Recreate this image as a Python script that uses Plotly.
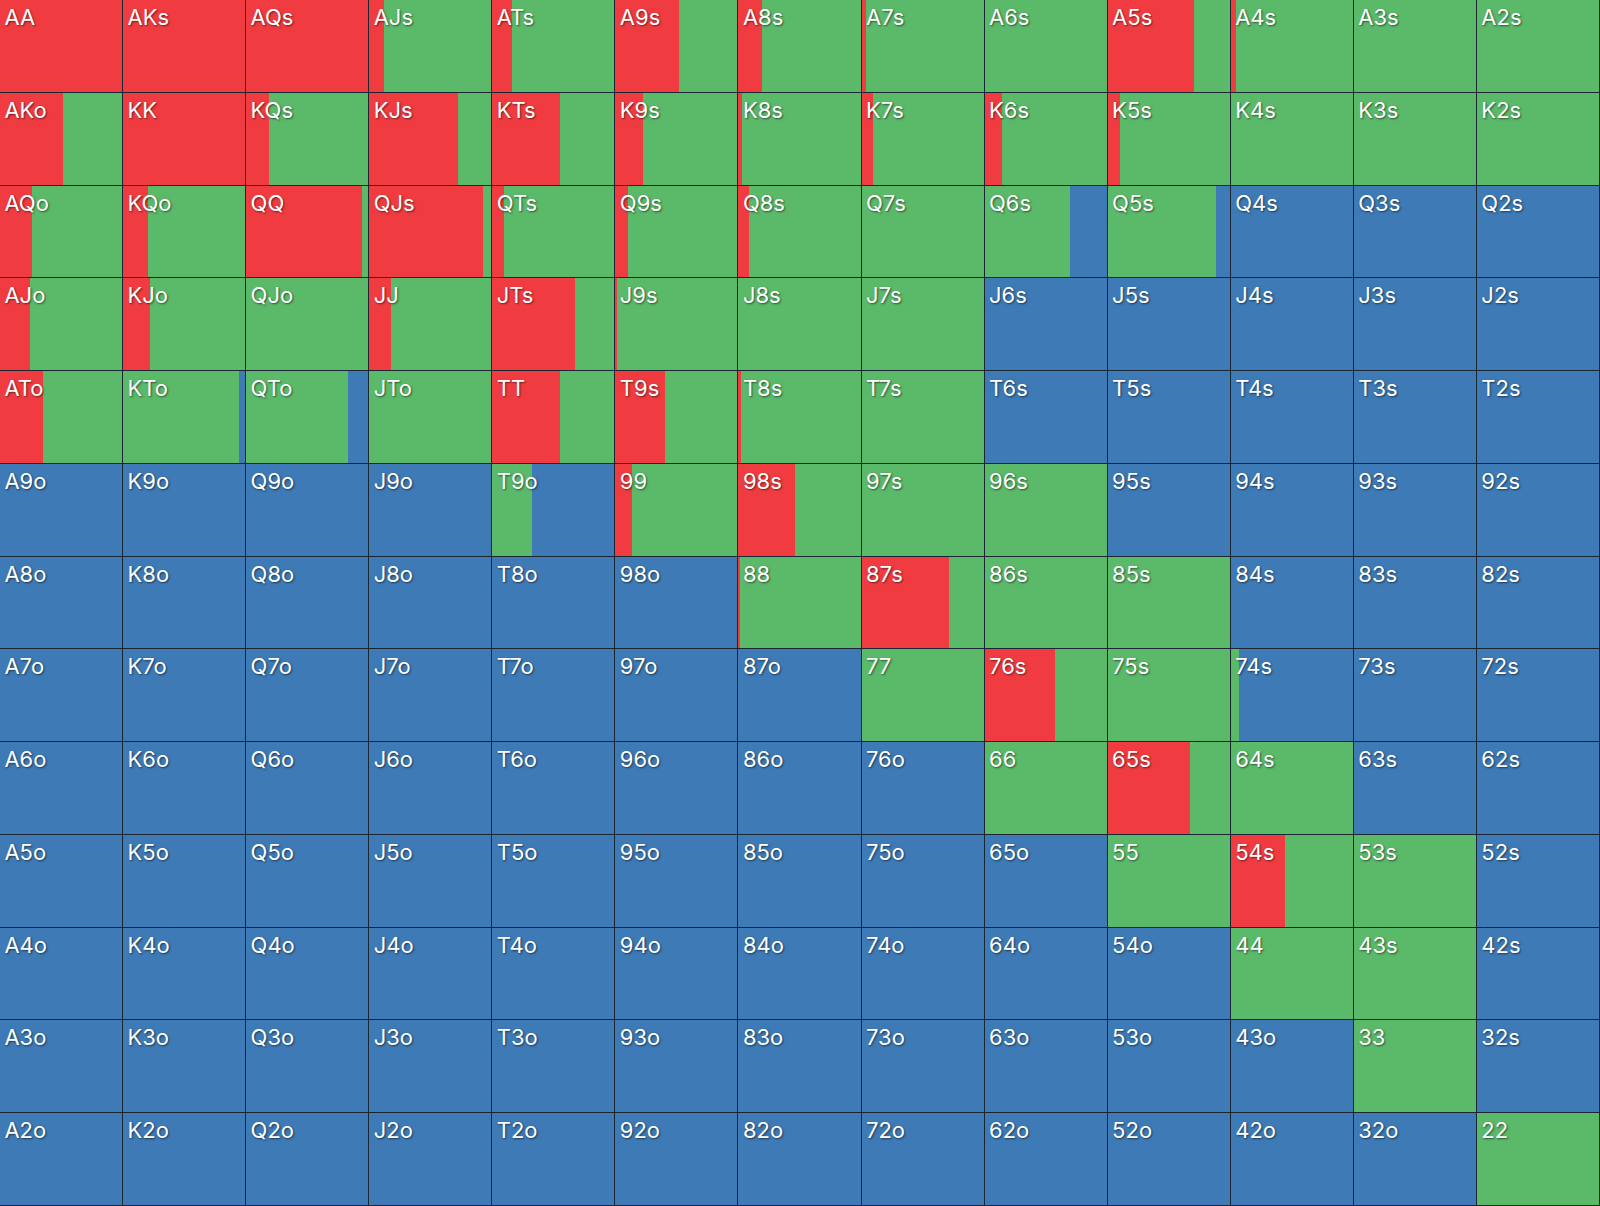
import plotly.graph_objects as go

ranks = ["A", "K", "Q", "J", "T", "9", "8", "7", "6", "5", "4", "3", "2"]

# fraction of each hand: raise (red), call (green); fold (blue) is the remainder
raise_freq = [
    [1, 1, 1, 0.12, 0.16, 0.52, 0.19, 0.04, 0, 0.70, 0.04, 0, 0],
    [0.51, 1, 0.185, 0.72, 0.55, 0.225, 0.026, 0.096, 0.14, 0.097, 0, 0, 0],
    [0.26, 0.205, 0.94, 0.925, 0.097, 0.10, 0.085, 0, 0, 0, 0, 0, 0],
    [0.24, 0.215, 0, 0.176, 0.675, 0.01, 0, 0, 0, 0, 0, 0, 0],
    [0.35, 0, 0, 0, 0.55, 0.40, 0.02, 0, 0, 0, 0, 0, 0],
    [0, 0, 0, 0, 0, 0.138, 0.46, 0, 0, 0, 0, 0, 0],
    [0, 0, 0, 0, 0, 0, 0.01, 0.71, 0, 0, 0, 0, 0],
    [0, 0, 0, 0, 0, 0, 0, 0, 0.57, 0, 0, 0, 0],
    [0, 0, 0, 0, 0, 0, 0, 0, 0, 0.665, 0, 0, 0],
    [0, 0, 0, 0, 0, 0, 0, 0, 0, 0, 0.44, 0, 0],
    [0, 0, 0, 0, 0, 0, 0, 0, 0, 0, 0, 0, 0],
    [0, 0, 0, 0, 0, 0, 0, 0, 0, 0, 0, 0, 0],
    [0, 0, 0, 0, 0, 0, 0, 0, 0, 0, 0, 0, 0],
]
call_freq = [
    [0, 0, 0, 0.88, 0.84, 0.48, 0.81, 0.96, 1, 0.30, 0.96, 1, 1],
    [0.49, 0, 0.815, 0.28, 0.45, 0.775, 0.974, 0.904, 0.86, 0.903, 1, 1, 1],
    [0.74, 0.795, 0.06, 0.075, 0.903, 0.90, 0.915, 1, 0.69, 0.88, 0, 0, 0],
    [0.76, 0.785, 1, 0.824, 0.325, 0.99, 1, 1, 0, 0, 0, 0, 0],
    [0.65, 0.943, 0.83, 1, 0.45, 0.60, 0.98, 1, 0, 0, 0, 0, 0],
    [0, 0, 0, 0, 0.32, 0.862, 0.54, 1, 1, 0, 0, 0, 0],
    [0, 0, 0, 0, 0, 0, 0.99, 0.29, 1, 1, 0, 0, 0],
    [0, 0, 0, 0, 0, 0, 0, 1, 0.43, 1, 0.065, 0, 0],
    [0, 0, 0, 0, 0, 0, 0, 0, 1, 0.335, 1, 0, 0],
    [0, 0, 0, 0, 0, 0, 0, 0, 0, 1, 0.56, 1, 0],
    [0, 0, 0, 0, 0, 0, 0, 0, 0, 0, 1, 1, 0],
    [0, 0, 0, 0, 0, 0, 0, 0, 0, 0, 0, 1, 0],
    [0, 0, 0, 0, 0, 0, 0, 0, 0, 0, 0, 0, 1],
]

RED = "#F03C40"
GREEN = "#5BB96A"
BLUE = "#3D7AB6"
BORDER = "#1B2633"

n = len(ranks)
rows, cols, labels = [], [], []
rx, rb, gx, gb, bx, bb = [], [], [], [], [], []
for r in range(n):
    for c in range(n):
        if r == c:
            lab = ranks[r] + ranks[c]
        elif c > r:
            lab = ranks[r] + ranks[c] + "s"
        else:
            lab = ranks[c] + ranks[r] + "o"
        rf = raise_freq[r][c]
        cf = call_freq[r][c]
        ff = max(0.0, 1 - rf - cf)
        rows.append(r)
        cols.append(c)
        labels.append(lab)
        rx.append(rf); rb.append(c)
        gx.append(cf); gb.append(c + rf)
        bx.append(ff); bb.append(c + rf + cf)

fig = go.Figure()
for name, xs, bs, col in [("Raise", rx, rb, RED), ("Call", gx, gb, GREEN), ("Fold", bx, bb, BLUE)]:
    fig.add_trace(go.Bar(
        name=name, orientation="h", y=rows, x=xs, base=bs, width=1,
        marker=dict(color=col, line=dict(width=0)),
        hoverinfo="skip", showlegend=False,
    ))

# cell outlines
fig.add_trace(go.Bar(
    orientation="h", y=rows, x=[1] * len(rows), base=cols, width=1,
    marker=dict(color="rgba(0,0,0,0)", line=dict(color=BORDER, width=1)),
    hoverinfo="skip", showlegend=False,
))

# hand labels
fig.add_trace(go.Scatter(
    x=[c + 0.036 for c in cols], y=[r - 0.29 for r in rows],
    text=labels, mode="text", textposition="middle right",
    textfont=dict(family="Inter, Roboto, sans-serif", size=22, color="white",
                  shadow="1px 1px 2px rgba(0,0,0,0.55)"),
    hoverinfo="skip", showlegend=False,
))

fig.update_layout(
    width=1600, height=1206,
    margin=dict(l=0, r=0, t=0, b=0),
    barmode="overlay", bargap=0,
    paper_bgcolor="white", plot_bgcolor="white",
    xaxis=dict(range=[0, 13], visible=False, fixedrange=True),
    yaxis=dict(range=[12.5, -0.5], visible=False, fixedrange=True),
)

fig.write_html("out.html", config={"displayModeBar": False},
               post_script="document.body.style.margin='0';")
